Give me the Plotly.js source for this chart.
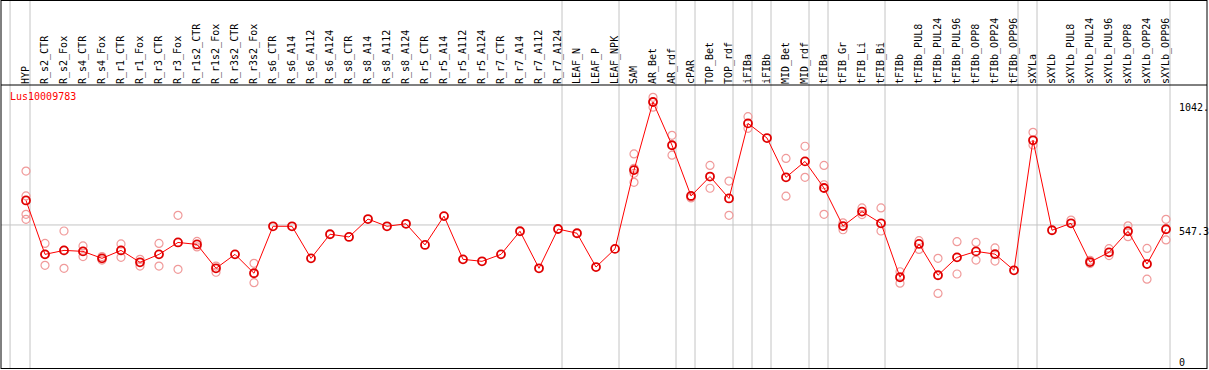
<!DOCTYPE html>
<html>
<head>
<meta charset="utf-8">
<script src="https://cdn.plot.ly/plotly-3.0.1.min.js"></script>
<style>html,body{margin:0;padding:0;background:#fff;}#chart{width:1209px;height:370px;}</style>
</head>
<body>
<div id="chart"></div>
<script>
var geneName = "Lus10009783";
var categories = ["HYP","R_s2_CTR","R_s2_Fox","R_s4_CTR","R_s4_Fox","R_r1_CTR","R_r1_Fox","R_r3_CTR","R_r3_Fox","R_r1s2_CTR","R_r1s2_Fox","R_r3s2_CTR","R_r3s2_Fox","R_s6_CTR","R_s6_A14","R_s6_A112","R_s6_A124","R_s8_CTR","R_s8_A14","R_s8_A112","R_s8_A124","R_r5_CTR","R_r5_A14","R_r5_A112","R_r5_A124","R_r7_CTR","R_r7_A14","R_r7_A112","R_r7_A124","LEAF_N","LEAF_P","LEAF_NPK","SAM","AR_Bet","AR_rdf","cPAR","TOP_Bet","TOP_rdf","iFIBa","iFIBb","MID_Bet","MID_rdf","tFIBa","tFIB_Gr","tFIB_Li","tFIB_Bi","tFIBb","tFIBb_PUL8","tFIBb_PUL24","tFIBb_PUL96","tFIBb_OPP8","tFIBb_OPP24","tFIBb_OPP96","sXYLa","sXYLb","sXYLb_PUL8","sXYLb_PUL24","sXYLb_PUL96","sXYLb_OPP8","sXYLb_OPP24","sXYLb_OPP96"];
var meanValues = [646,429,445,441,413,445,397,429,477,469,373,429,353,542,542,413,510,499,571,542,552,467,583,409,401,429,522,373,531,514,378,451,768,1042,868,664,742,654,956,897,739,803,696,543,601,554,337,471,345,417,441,430,365,888,526,554,398,437,522,390,530];
var repCategories = ["HYP","HYP","HYP","HYP","R_s2_CTR","R_s2_CTR","R_s2_CTR","R_s2_Fox","R_s2_Fox","R_s2_Fox","R_s4_CTR","R_s4_CTR","R_s4_CTR","R_s4_Fox","R_s4_Fox","R_r1_CTR","R_r1_CTR","R_r1_CTR","R_r1_Fox","R_r1_Fox","R_r3_CTR","R_r3_CTR","R_r3_Fox","R_r3_Fox","R_r1s2_CTR","R_r1s2_CTR","R_r1s2_Fox","R_r1s2_Fox","R_r3s2_Fox","R_r3s2_Fox","SAM","SAM","SAM","SAM","AR_Bet","AR_Bet","AR_rdf","AR_rdf","cPAR","cPAR","TOP_Bet","TOP_Bet","TOP_rdf","TOP_rdf","iFIBa","iFIBa","MID_Bet","MID_Bet","MID_rdf","MID_rdf","tFIBa","tFIBa","tFIBa","tFIB_Gr","tFIB_Gr","tFIB_Li","tFIB_Li","tFIB_Bi","tFIB_Bi","tFIBb","tFIBb","tFIBb_PUL8","tFIBb_PUL8","tFIBb_PUL24","tFIBb_PUL24","tFIBb_PUL96","tFIBb_PUL96","tFIBb_OPP8","tFIBb_OPP8","tFIBb_OPP24","tFIBb_OPP24","sXYLa","sXYLa","sXYLb_PUL8","sXYLb_PUL24","sXYLb_PUL24","sXYLb_PUL96","sXYLb_PUL96","sXYLb_OPP8","sXYLb_OPP8","sXYLb_OPP24","sXYLb_OPP24","sXYLb_OPP96","sXYLb_OPP96"];
var repValues = [764,664,590,570,473,385,429,523,373,445,463,420,441,420,406,471,417,445,409,382,473,382,586,369,481,459,382,357,393,315,833,775,755,719,1061,1021,908,828,660,656,787,695,724,586,983,936,815,663,864,739,787,709,590,556,528,616,589,616,523,359,313,484,449,413,272,480,350,477,406,455,402,920,869,567,405,392,452,424,544,500,453,329,570,487];
var groupEnds = ["HYP","R_r7_A124","LEAF_NPK","AR_rdf","cPAR","TOP_rdf","iFIBa","iFIBb","MID_rdf","tFIBa","tFIB_Bi","tFIBb_OPP96","sXYLa","sXYLb_OPP96"];
var refValue = 547.3;
var yTickVals = [0, 547.3, 1042];
var yTickText = ["0", "547.3", "1042."];

var mono = "DejaVu Sans Mono, monospace";
var W = 1209, H = 370, L = 1, R = 2, T = 85, B = 1;
var pxPerCat = 19, firstPx = 26;
var plotW = W - L - R;
var xr = [(L - firstPx) / pxPerCat, (L + plotW - firstPx) / pxPerCat];
var plotH = H - T - B;
var pxPerUnit = 259 / 1042;
var yr = [(361 - (T + plotH)) / pxPerUnit, (361 - T) / pxPerUnit];
var topPaper = (T + plotH) / plotH;
var off = 4 / pxPerCat;

var shapes = [];
shapes.push({type:"line", xref:"x", yref:"paper", x0:-1 + off - 0.05, x1:-1 + off - 0.05, y0:0, y1:topPaper, line:{color:"#c4c4c4", width:1}, layer:"below"});
groupEnds.forEach(function(c){
  var i = categories.indexOf(c) + off;
  shapes.push({type:"line", xref:"x", yref:"paper", x0:i, x1:i, y0:0, y1:topPaper, line:{color:"#c4c4c4", width:1}, layer:"below"});
});
var lastEdge = categories.length - 1 + off;
shapes.push({type:"line", xref:"x", yref:"y", x0:xr[0], x1:lastEdge, y0:refValue, y1:refValue, line:{color:"#c4c4c4", width:1}, layer:"below"});
shapes.push({type:"line", xref:"paper", yref:"paper", x0:0, x1:1, y0:1, y1:1, line:{color:"#000", width:1}});
shapes.push({type:"line", xref:"paper", yref:"paper", x0:0, x1:1, y0:topPaper - 0.5/plotH, y1:topPaper - 0.5/plotH, line:{color:"#000", width:1}});
shapes.push({type:"line", xref:"paper", yref:"paper", x0:0, x1:1, y0:0.5/plotH, y1:0.5/plotH, line:{color:"#000", width:1}});
shapes.push({type:"line", xref:"paper", yref:"paper", x0:0, x1:0, y0:0, y1:topPaper, line:{color:"#000", width:1}});
shapes.push({type:"line", xref:"paper", yref:"paper", x0:1, x1:1, y0:0, y1:topPaper, line:{color:"#000", width:1}});

var annotations = [];
annotations.push({xref:"paper", yref:"paper", x:(8 - L)/plotW, y:1 - 12/plotH, xanchor:"left", yanchor:"middle", text:geneName, showarrow:false, font:{family:mono, size:10, color:"#ff0000"}});
var yShifts = [-1, -7, -5];
yTickVals.forEach(function(v, k){
  annotations.push({xref:"paper", yref:"y", x:(1177 - L)/plotW, y:v, xanchor:"left", yanchor:"middle", yshift:yShifts[k], text:yTickText[k], showarrow:false, font:{family:mono, size:10, color:"#000"}});
});

var traces = [
  {type:"scatter", mode:"markers", x:repCategories, y:repValues, marker:{symbol:"circle-open", size:8, color:"#f09a9a", line:{width:1.2, color:"#f09a9a"}}, hoverinfo:"skip"},
  {type:"scatter", mode:"lines+markers", x:categories, y:meanValues, line:{color:"#ff0000", width:1}, marker:{symbol:"circle-open", size:8, color:"#e00000", line:{width:1.8, color:"#e00000"}}}
];

var layout = {
  width:W, height:H,
  margin:{l:L, r:R, t:T, b:B, pad:0},
  paper_bgcolor:"#fff", plot_bgcolor:"#fff",
  showlegend:false,
  xaxis:{type:"category", categoryorder:"array", categoryarray:categories, range:xr, side:"top", tickmode:"array", tickvals:categories, ticktext:categories, tickangle:-90, ticks:"", tickfont:{family:mono, size:10, color:"#000"}, showgrid:false, zeroline:false, showline:false, fixedrange:true},
  yaxis:{range:yr, showgrid:false, zeroline:false, showline:false, showticklabels:false, ticks:"", fixedrange:true},
  shapes:shapes,
  annotations:annotations
};
Plotly.newPlot("chart", traces, layout, {displayModeBar:false, staticPlot:true});
</script>
</body>
</html>
